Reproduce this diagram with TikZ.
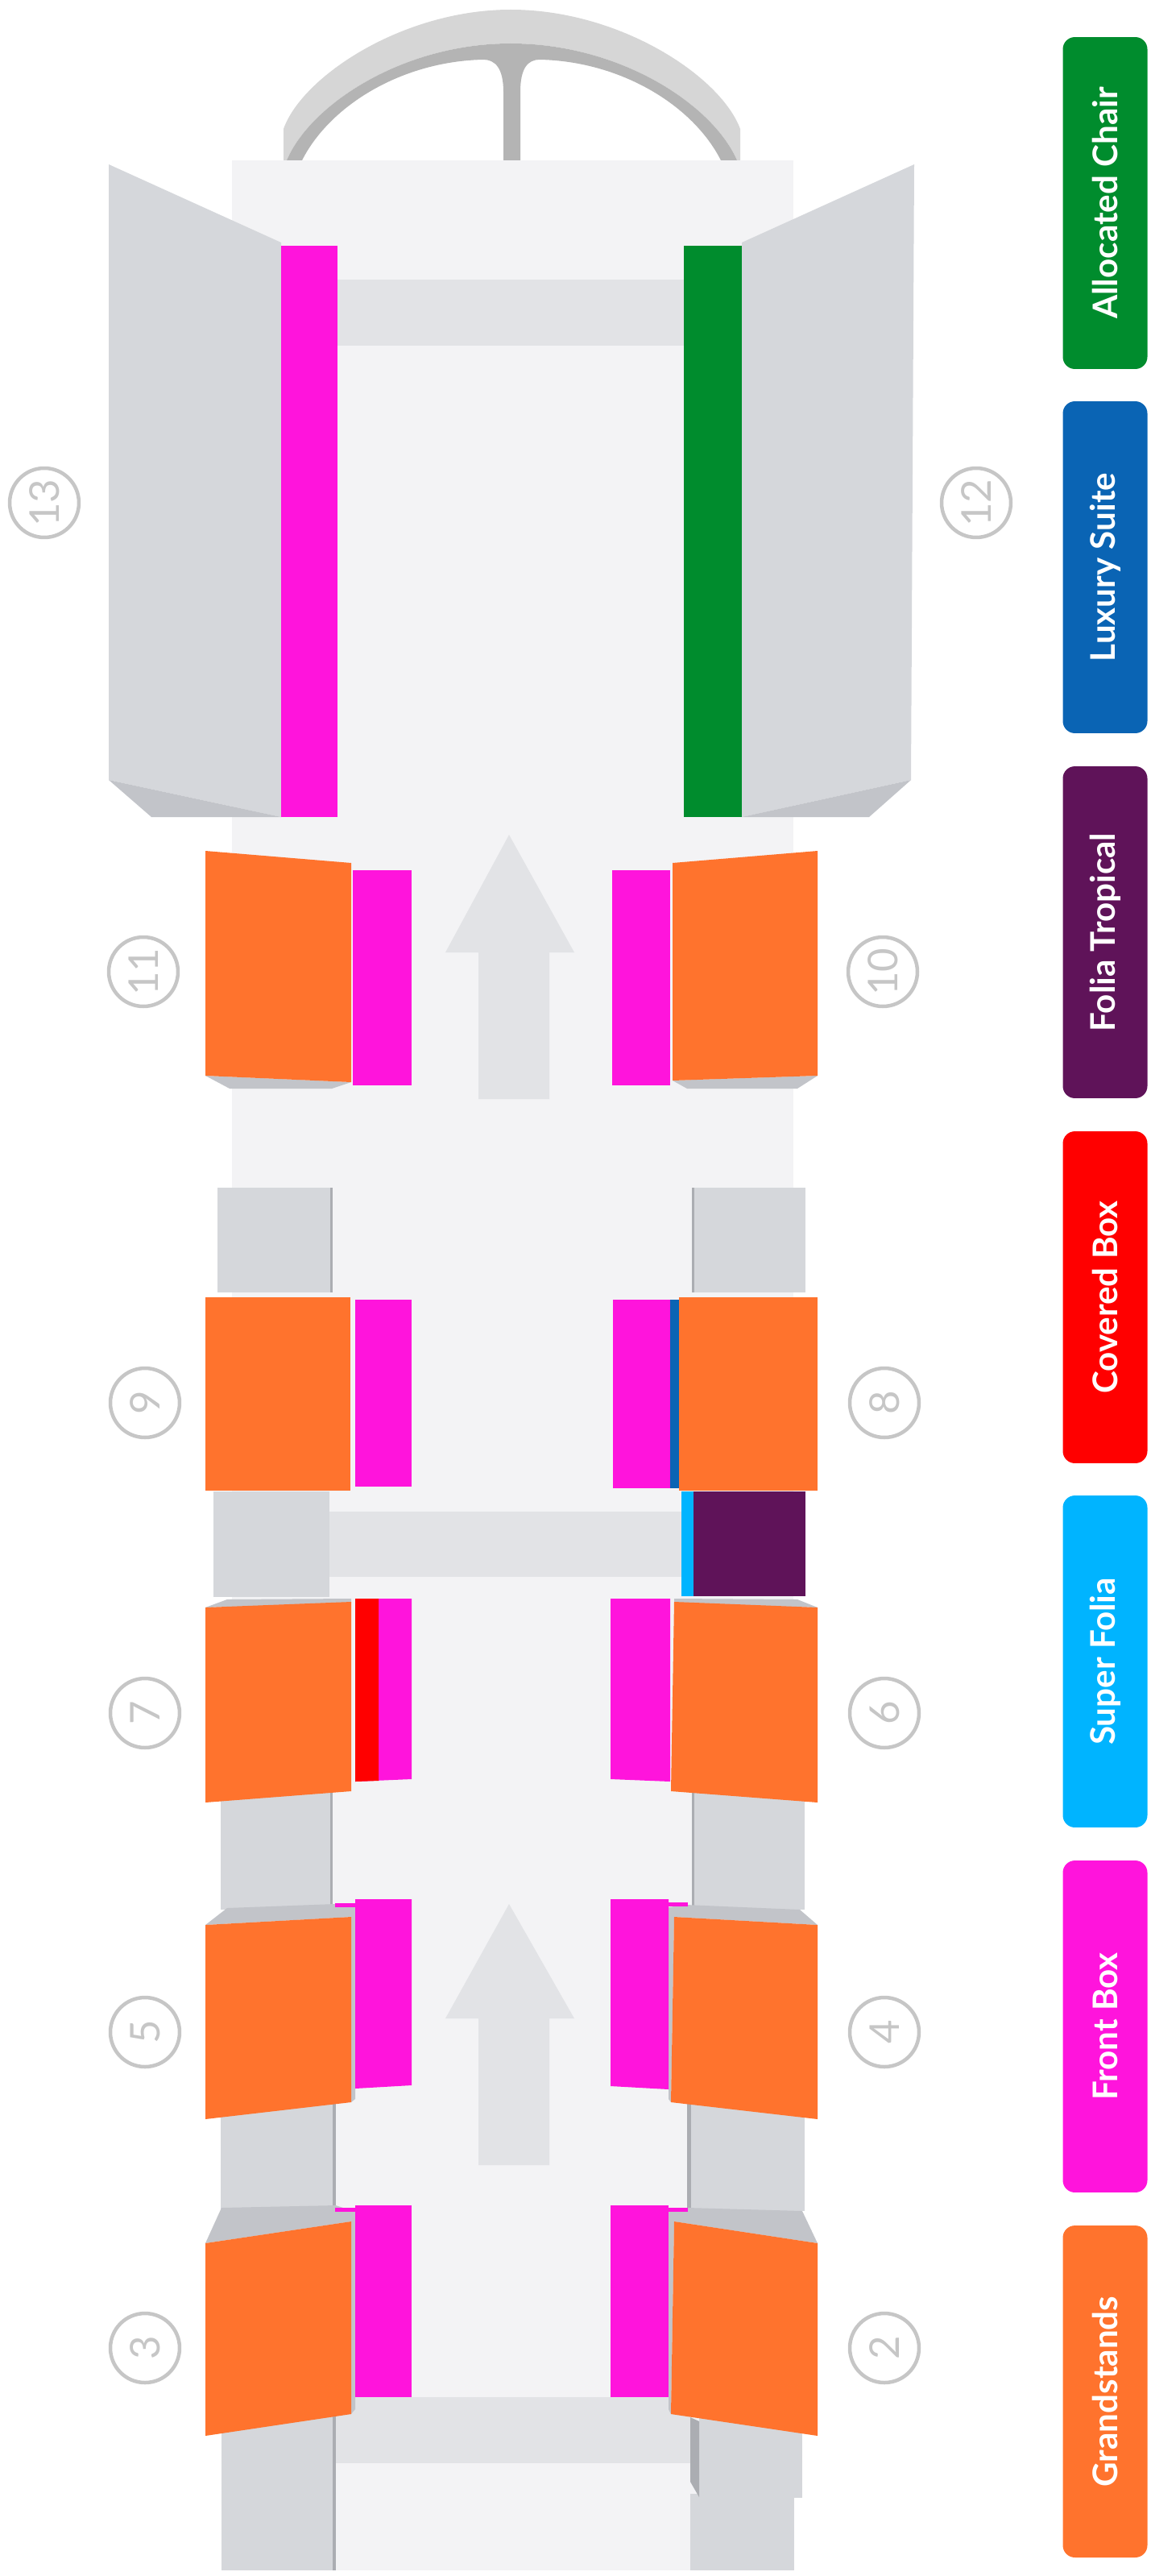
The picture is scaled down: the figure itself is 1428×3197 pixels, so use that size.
\documentclass[tikz,border=0pt]{standalone}
\usepackage{fontspec}
\setmainfont{Lato}
\definecolor{floorgrey}{HTML}{F3F3F5}
\definecolor{bandgrey}{HTML}{E2E3E6}
\definecolor{standgrey}{HTML}{D5D7DB}
\definecolor{shadegrey}{HTML}{C2C4C9}
\definecolor{edgegrey}{HTML}{ABADB2}
\definecolor{roofgrey}{HTML}{D6D6D6}
\definecolor{roofdark}{HTML}{B4B4B4}
\definecolor{numgrey}{HTML}{C6C6C6}
\definecolor{grandorange}{HTML}{FF732D}
\definecolor{frontpink}{HTML}{FF14DC}
\definecolor{superblue}{HTML}{00B4FF}
\definecolor{coveredred}{HTML}{FF0000}
\definecolor{foliapurple}{HTML}{5F1359}
\definecolor{luxuryblue}{HTML}{0A64B4}
\definecolor{chairgreen}{HTML}{008C2D}
\begin{document}
\begin{tikzpicture}[
    x=0.02cm, y=-0.02cm,
    floorarea/.style={fill=floorgrey},
    band/.style={fill=bandgrey},
    stand/.style={fill=standgrey},
    shade/.style={fill=shadegrey},
    edge/.style={fill=edgegrey},
    grand/.style={fill=grandorange},
    front/.style={fill=frontpink},
    num/.style={draw=numgrey, line width=0.09cm, circle, minimum size=1.72cm, inner sep=0pt, text=numgrey, font=\fontsize{29}{29}\selectfont, rotate=90},
    legend/.style={rounded corners=0.3cm, minimum width=8.24cm, minimum height=2.1cm, inner sep=0pt, text=white, font=\fontsize{24}{24}\selectfont\bfseries, rotate=90}
]
\useasboundingbox (0,0) rectangle (1428,3197);

% Roof
\fill[roofgrey] (352,199) -- (352,160) .. controls (375,95) and (500,12) .. (634,12) .. controls (770,12) and (895,95) .. (919,160) -- (919,199) -- (915,199) .. controls (885,130) and (770,54) .. (634,54) .. controls (500,54) and (385,130) .. (356,199) -- cycle;
\fill[roofdark] (356,199) .. controls (385,130) and (500,54) .. (634,54) .. controls (770,54) and (885,130) .. (915,199) -- (895,199) .. controls (860,130) and (770,76) .. (670,74) .. controls (655,74) and (646,85) .. (646,114) -- (646,199) -- (625,199) -- (625,114) .. controls (625,85) and (615,74) .. (600,74) .. controls (500,76) and (410,130) .. (375,199) -- cycle;

% Floor and cross bands
\fill[floorarea] (288,199) rectangle (985,3190);
\fill[band] (419,347) rectangle (850,429);
\fill[band] (409,1876) rectangle (846,1957);
\fill[band] (417,2975) rectangle (857,3057);

% Arrows
\fill[band] (632,1036) -- (713,1182) -- (682,1182) -- (682,1364) -- (594,1364) -- (594,1182) -- (553,1182) -- cycle;
\fill[band] (632,2363) -- (713,2505) -- (682,2505) -- (682,2687) -- (594,2687) -- (594,2505) -- (553,2505) -- cycle;

% Wings at the top
\fill[stand] (135,204) -- (349,301) -- (349,1014) -- (135,968) -- cycle;
\fill[shade] (135,968) -- (188,1014) -- (349,1014) -- cycle;
\fill[stand] (1135,204) -- (921,301) -- (921,1014) -- (1131,968) -- cycle;
\fill[shade] (1131,968) -- (1079,1014) -- (921,1014) -- cycle;

% Grey stands
\fill[stand] (270,1474) rectangle (412,1604);
\fill[stand] (859,1474) rectangle (1000,1604);
\fill[stand] (265,1851) rectangle (409,1982);
\fill[stand] (274,2223) rectangle (412,2370);
\fill[stand] (859,2223) rectangle (999,2370);
\fill[stand] (274,2609) rectangle (417,2744);
\fill[stand] (853,2609) rectangle (999,2744);
\fill[stand] (275,2996) rectangle (417,3190);
\fill[stand] (868,2996) rectangle (996,3100);
\fill[stand] (857,3095) rectangle (986,3190);

% Stand edges
\fill[edge] (410,1474) rectangle (413,1604);
\fill[edge] (859,1474) rectangle (862,1604);
\fill[edge] (410,2223) rectangle (413,2370);
\fill[edge] (859,2223) rectangle (862,2370);
\fill[edge] (413,2609) rectangle (417,2744);
\fill[edge] (853,2609) rectangle (858,2744);
\fill[edge] (413,2996) rectangle (417,3190);
\fill[edge] (857,3000) -- (868,3005) -- (868,3099) -- (857,3080) -- cycle;

% Shadows under the orange blocks
\fill[shade] (255,1335) -- (285,1351) -- (412,1351) -- (436,1343) -- cycle;
\fill[shade] (1015,1335) -- (990,1351) -- (853,1351) -- (835,1341) -- cycle;
\fill[shade] (255,1995) -- (282,1985) -- (436,1984) -- (436,1990) -- cycle;
\fill[shade] (1015,1995) -- (990,1985) -- (837,1984) -- (837,1990) -- cycle;
\fill[shade] (255,2389) -- (282,2368) -- (416,2363) -- (441,2367) -- (441,2605) -- (436,2609) -- (436,2379) -- cycle;
\fill[shade] (1015,2389) -- (993,2370) -- (852,2364) -- (830,2367) -- (830,2605) -- (833,2609) -- (837,2379) -- cycle;
\fill[shade] (255,2784) -- (275,2740) -- (417,2737) -- (441,2745) -- (441,2990) -- (436,2996) -- (436,2757) -- cycle;
\fill[shade] (1015,2784) -- (996,2744) -- (854,2740) -- (830,2745) -- (830,2990) -- (833,2996) -- (837,2757) -- cycle;

% Front boxes
\fill[front] (349,305) rectangle (419,1014);
\fill[chairgreen] (849,305) rectangle (921,1014);
\fill[front] (438,1080) rectangle (511,1347);
\fill[front] (760,1080) rectangle (832,1347);
\fill[front] (441,1613) rectangle (511,1845);
\fill[front] (761,1613) rectangle (832,1847);
\fill[luxuryblue] (832,1613) rectangle (843,1847);
\fill[superblue] (846,1851) rectangle (861,1981);
\fill[foliapurple] (861,1851) rectangle (1000,1981);
\fill[front] (441,1984) -- (511,1984) -- (511,2208) -- (441,2211) -- cycle;
\fill[coveredred] (441,1984) -- (470,1984) -- (470,2210) -- (441,2211) -- cycle;
\fill[front] (758,1984) -- (832,1984) -- (832,2211) -- (758,2208) -- cycle;
\fill[front] (441,2357) -- (511,2357) -- (511,2588) -- (441,2592) -- cycle;
\fill[front] (416,2362) rectangle (441,2367);
\fill[front] (758,2357) -- (830,2357) -- (830,2593) -- (758,2589) -- cycle;
\fill[front] (830,2361) rectangle (854,2366);
\fill[front] (441,2737) rectangle (511,2975);
\fill[front] (416,2740) rectangle (441,2745);
\fill[front] (758,2737) rectangle (830,2975);
\fill[front] (830,2740) rectangle (854,2745);

% Orange blocks
\fill[grand] (255,1056) -- (436,1071) -- (436,1343) -- (255,1335) -- cycle;
\fill[grand] (835,1071) -- (1015,1056) -- (1015,1335) -- (835,1341) -- cycle;
\fill[grand] (255,1610) rectangle (435,1850);
\fill[grand] (843,1610) rectangle (1015,1850);
\fill[grand] (255,1995) -- (436,1988) -- (436,2223) -- (255,2237) -- cycle;
\fill[grand] (837,1988) -- (1015,1995) -- (1015,2237) -- (833,2223) -- cycle;
\fill[grand] (255,2389) -- (436,2379) -- (436,2609) -- (255,2630) -- cycle;
\fill[grand] (837,2379) -- (1015,2389) -- (1015,2630) -- (833,2609) -- cycle;
\fill[grand] (255,2784) -- (436,2757) -- (436,2996) -- (255,3023) -- cycle;
\fill[grand] (837,2757) -- (1015,2784) -- (1015,3023) -- (833,2996) -- cycle;

% Stand numbers
\node[num] (n13) at (55,624) {13};
\node[num] (n12) at (1212,624) {12};
\node[num] (n11) at (178,1206) {11};
\node[num] (n10) at (1096,1206) {10};
\node[num] (n9) at (180,1741) {9};
\node[num] (n8) at (1098,1741) {8};
\node[num] (n7) at (180,2126) {7};
\node[num] (n6) at (1098,2126) {6};
\node[num] (n5) at (180,2522) {5};
\node[num] (n4) at (1098,2522) {4};
\node[num] (n3) at (180,2914) {3};
\node[num] (n2) at (1098,2914) {2};

% Legend
\node[legend, fill=chairgreen] (chair) at (1372,252) {Allocated Chair};
\node[legend, fill=luxuryblue] (luxury) at (1372,704) {Luxury Suite};
\node[legend, fill=foliapurple] (tropical) at (1372,1157) {Folia Tropical};
\node[legend, fill=coveredred] (covered) at (1372,1610) {Covered Box};
\node[legend, fill=superblue] (superfolia) at (1372,2062) {Super Folia};
\node[legend, fill=frontpink] (frontbox) at (1372,2515) {Front Box};
\node[legend, fill=grandorange] (grandstands) at (1372,2968) {Grandstands};
\end{tikzpicture}
\end{document}
